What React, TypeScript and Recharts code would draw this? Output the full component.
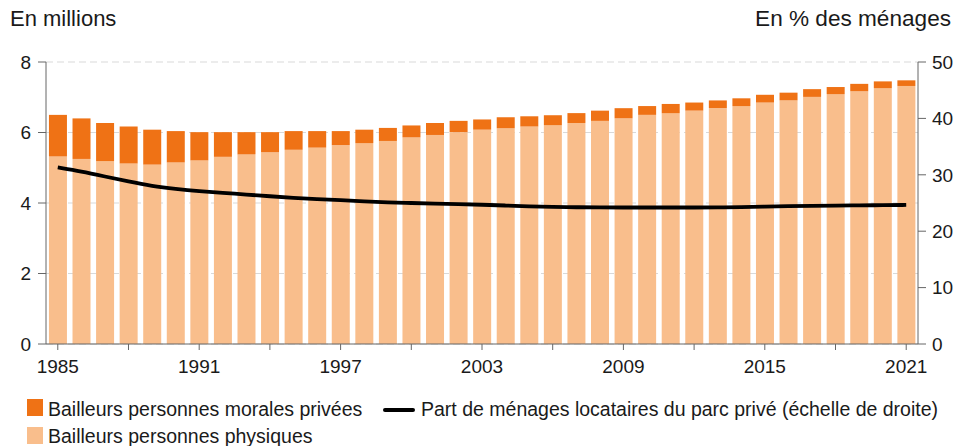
import React from 'react';
import { ComposedChart, Bar, Line, XAxis, YAxis, CartesianGrid, Legend } from 'recharts';

const years = [1985, 1986, 1987, 1988, 1989, 1990, 1991, 1992, 1993, 1994, 1995, 1996, 1997, 1998, 1999, 2000, 2001, 2002, 2003, 2004, 2005, 2006, 2007, 2008, 2009, 2010, 2011, 2012, 2013, 2014, 2015, 2016, 2017, 2018, 2019, 2020, 2021];
const physiques = [5.32, 5.25, 5.19, 5.12, 5.09, 5.15, 5.21, 5.31, 5.38, 5.44, 5.51, 5.57, 5.64, 5.70, 5.76, 5.86, 5.93, 6.01, 6.08, 6.12, 6.17, 6.21, 6.27, 6.33, 6.40, 6.50, 6.55, 6.62, 6.69, 6.75, 6.85, 6.91, 7.01, 7.09, 7.17, 7.26, 7.32];
const morales = [1.18, 1.15, 1.08, 1.05, 0.99, 0.89, 0.80, 0.70, 0.63, 0.57, 0.53, 0.47, 0.40, 0.38, 0.37, 0.34, 0.34, 0.32, 0.29, 0.31, 0.29, 0.28, 0.28, 0.29, 0.29, 0.25, 0.26, 0.23, 0.22, 0.22, 0.22, 0.22, 0.22, 0.20, 0.21, 0.19, 0.16];
const partMenages = [31.3, 30.6, 29.7, 28.8, 28.0, 27.5, 27.1, 26.8, 26.5, 26.2, 25.9, 25.7, 25.5, 25.3, 25.1, 25.0, 24.9, 24.8, 24.7, 24.55, 24.4, 24.3, 24.25, 24.2, 24.2, 24.2, 24.2, 24.2, 24.2, 24.25, 24.35, 24.45, 24.5, 24.55, 24.6, 24.6, 24.65];
const leftTicks = [0, 2, 4, 6, 8];
const rightTicks = [0, 10, 20, 30, 40, 50];
const labeledYears = [1985, 1991, 1997, 2003, 2009, 2015, 2021];

const nameMorales = 'Bailleurs personnes morales privées';
const namePhysiques = 'Bailleurs personnes physiques';
const nameLine = 'Part de ménages locataires du parc privé (échelle de droite)';

const data = years.map((y, i) => ({
  year: y,
  physiques: physiques[i],
  morales: morales[i],
  part: partMenages[i],
}));

const FONT = '"Liberation Sans", Arial, Helvetica, sans-serif';
const DARK = '#EF7215';
const LIGHT = '#F9BE8C';
const AXIS = '#666666';
const TEXT = '#1a1a1a';

const legendText: React.CSSProperties = {
  position: 'absolute',
  fontSize: 19.5,
  lineHeight: '19px',
  color: TEXT,
  whiteSpace: 'nowrap',
  fontFamily: FONT,
};

const LegendContent = () => (
  <div style={{ position: 'relative', width: 956, height: 51 }}>
    <div style={{ position: 'absolute', left: 27, top: 4, width: 16, height: 17, background: DARK }} />
    <div style={{ ...legendText, left: 48, top: 5 }}>{nameMorales}</div>
    <div style={{ position: 'absolute', left: 383, top: 13, width: 32, height: 3.5, background: '#000', borderRadius: 2 }} />
    <div style={{ ...legendText, left: 421, top: 5 }}>{nameLine}</div>
    <div style={{ position: 'absolute', left: 27, top: 32, width: 16, height: 17, background: LIGHT }} />
    <div style={{ ...legendText, left: 48, top: 32 }}>{namePhysiques}</div>
  </div>
);

export default function App() {
  return (
    <div style={{ position: 'absolute', left: 0, top: 0, width: 956, height: 446, fontFamily: FONT, background: '#fff' }}>
      <div style={{ position: 'absolute', left: 10, top: 8, fontSize: 22, lineHeight: '22px', color: TEXT, whiteSpace: 'nowrap' }}>En millions</div>
      <div style={{ position: 'absolute', right: 5, top: 8, fontSize: 22.6, lineHeight: '22px', color: TEXT, whiteSpace: 'nowrap' }}>En % des ménages</div>
      <ComposedChart
        width={956}
        height={446}
        data={data}
        margin={{ top: 62, right: 0, bottom: 62, left: 0 }}
        barCategoryGap="12.5%"
        style={{ fontFamily: FONT }}
      >
        <CartesianGrid yAxisId="left" vertical={false} stroke="#d9d9d9" strokeDasharray="7 4" />
        <XAxis
          dataKey="year"
          interval={2}
          height={40}
          tickSize={6}
          tickMargin={10}
          stroke={AXIS}
          tick={{ fill: TEXT, fontSize: 19 }}
          tickFormatter={(v: number) => (labeledYears.includes(v) ? String(v) : '')}
        />
        <YAxis
          yAxisId="left"
          orientation="left"
          width={46}
          domain={[0, 8]}
          ticks={leftTicks}
          tickSize={8}
          tickMargin={7}
          stroke={AXIS}
          tick={{ fill: TEXT, fontSize: 19 }}
          interval={0}
        />
        <YAxis
          yAxisId="right"
          orientation="right"
          width={38}
          domain={[0, 50]}
          ticks={rightTicks}
          tickSize={8}
          tickMargin={6}
          stroke={AXIS}
          tick={{ fill: TEXT, fontSize: 19 }}
          interval={0}
        />
        <Bar yAxisId="left" dataKey="physiques" name={namePhysiques} stackId="a" fill={LIGHT} isAnimationActive={false} />
        <Bar yAxisId="left" dataKey="morales" name={nameMorales} stackId="a" fill={DARK} isAnimationActive={false} />
        <Line yAxisId="right" dataKey="part" name={nameLine} type="basis" stroke="#000" strokeWidth={3.8} dot={false} isAnimationActive={false} />
        <Legend
          layout="horizontal"
          verticalAlign="middle"
          content={<LegendContent />}
          wrapperStyle={{ position: 'absolute', left: 0, top: 395, width: 956, height: 51 }}
        />
      </ComposedChart>
    </div>
  );
}
